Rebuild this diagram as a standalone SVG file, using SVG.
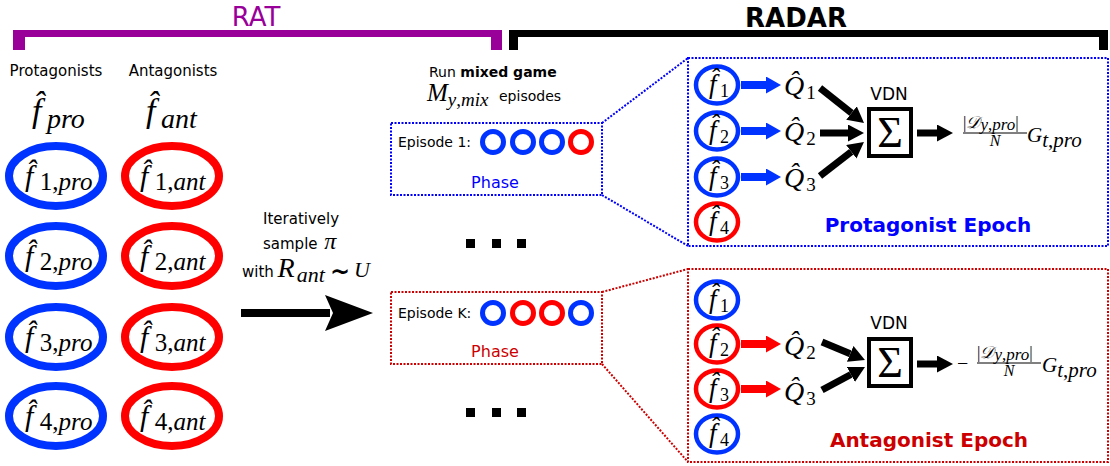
<svg xmlns="http://www.w3.org/2000/svg" width="1110" height="466" viewBox="0 0 1110 466">
<style>
.sans{font-family:"DejaVu Sans","Liberation Sans",sans-serif;fill:#000}
.b{font-weight:bold}
.mi{font-family:"Liberation Serif",serif;font-style:italic;fill:#000}
.mr{font-family:"Liberation Serif",serif;font-style:normal;fill:#000}
.dotB{fill:none;stroke:#0000ff;stroke-width:2;stroke-dasharray:2 1.5}
.dotR{fill:none;stroke:#cc0000;stroke-width:2;stroke-dasharray:2 1.5}
.ringB{fill:none;stroke:#0033ff}
.ringR{fill:none;stroke:#ff0000}
.big{stroke-width:8}
.ep{stroke-width:5}
.sm{stroke-width:4.5}
.sig{fill:none;stroke:#000;stroke-width:4}
.blk{stroke:#000;stroke-width:7;fill:none}
.blu{stroke:#0033ff;stroke-width:8;fill:none}
.red{stroke:#ff0000;stroke-width:8;fill:none}
</style>
<defs>
<marker id="hk" markerUnits="userSpaceOnUse" markerWidth="20" markerHeight="20" refX="0" refY="8.5" orient="auto" viewBox="0 0 20 20"><path d="M0,0 L16,8.5 L0,17 z" fill="#000"/></marker>
<marker id="hb" markerUnits="userSpaceOnUse" markerWidth="20" markerHeight="20" refX="0" refY="8.5" orient="auto" viewBox="0 0 20 20"><path d="M0,0 L15,8.5 L0,17 z" fill="#0033ff"/></marker>
<marker id="hr" markerUnits="userSpaceOnUse" markerWidth="20" markerHeight="20" refX="0" refY="8.5" orient="auto" viewBox="0 0 20 20"><path d="M0,0 L15,8.5 L0,17 z" fill="#ff0000"/></marker>
</defs>

<!-- Brackets -->
<g id="rat-bracket">
<text class="sans" x="256" y="26" font-size="26" text-anchor="middle" style="fill:#990099">RAT</text>
<rect x="13" y="30" width="489" height="7" fill="#990099"/>
<rect x="13" y="30" width="12" height="20" fill="#990099"/>
<rect x="491" y="30" width="11" height="20" fill="#990099"/>
</g>
<g id="radar-bracket">
<text class="sans b" x="796" y="27" font-size="26" text-anchor="middle">RADAR</text>
<rect x="509" y="30" width="599" height="7" fill="#000"/>
<rect x="509" y="30" width="9" height="20" fill="#000"/>
<rect x="1099" y="30" width="9" height="20" fill="#000"/>
</g>

<!-- Left column headers -->
<g id="pro-header">
<text class="sans" x="56" y="76" font-size="15" text-anchor="middle">Protagonists</text>
<text class="mi" x="32" y="122" font-size="34">f&#x302;<tspan font-size="28" dx="5.5" dy="6">pro</tspan></text>
</g>
<g id="ant-header">
<text class="sans" x="173" y="76" font-size="15" text-anchor="middle">Antagonists</text>
<text class="mi" x="146" y="122" font-size="34">f&#x302;<tspan font-size="28" dx="5.5" dy="6">ant</tspan></text>
</g>

<!-- Left ellipses -->
<g id="pro1"><ellipse class="ringB big" cx="56" cy="176" rx="47" ry="30"/><text class="mi" x="25" y="186" font-size="30">f&#x302;<tspan class="mr" font-size="25" dx="6.5" dy="4">1,</tspan><tspan font-size="25">pro</tspan></text></g>
<g id="pro2"><ellipse class="ringB big" cx="56" cy="256" rx="47" ry="30"/><text class="mi" x="25" y="266" font-size="30">f&#x302;<tspan class="mr" font-size="25" dx="6.5" dy="4">2,</tspan><tspan font-size="25">pro</tspan></text></g>
<g id="pro3"><ellipse class="ringB big" cx="56" cy="337" rx="47" ry="30"/><text class="mi" x="25" y="347" font-size="30">f&#x302;<tspan class="mr" font-size="25" dx="6.5" dy="4">3,</tspan><tspan font-size="25">pro</tspan></text></g>
<g id="pro4"><ellipse class="ringB big" cx="56" cy="416" rx="47" ry="30"/><text class="mi" x="25" y="426" font-size="30">f&#x302;<tspan class="mr" font-size="25" dx="6.5" dy="4">4,</tspan><tspan font-size="25">pro</tspan></text></g>

<g id="ant1"><ellipse class="ringR big" cx="172" cy="176" rx="47" ry="30"/><text class="mi" x="140" y="186" font-size="30">f&#x302;<tspan class="mr" font-size="25" dx="6.5" dy="4">1,</tspan><tspan font-size="25">ant</tspan></text></g>
<g id="ant2"><ellipse class="ringR big" cx="172" cy="256" rx="47" ry="30"/><text class="mi" x="140" y="266" font-size="30">f&#x302;<tspan class="mr" font-size="25" dx="6.5" dy="4">2,</tspan><tspan font-size="25">ant</tspan></text></g>
<g id="ant3"><ellipse class="ringR big" cx="172" cy="337" rx="47" ry="30"/><text class="mi" x="140" y="347" font-size="30">f&#x302;<tspan class="mr" font-size="25" dx="6.5" dy="4">3,</tspan><tspan font-size="25">ant</tspan></text></g>
<g id="ant4"><ellipse class="ringR big" cx="172" cy="416" rx="47" ry="30"/><text class="mi" x="140" y="426" font-size="30">f&#x302;<tspan class="mr" font-size="25" dx="6.5" dy="4">4,</tspan><tspan font-size="25">ant</tspan></text></g>

<!-- Sampling label -->
<g id="sample-label">
<text class="sans" x="263" y="224" font-size="15">Iteratively</text>
<text class="sans" x="263" y="249" font-size="15">sample <tspan class="mi" font-size="24" dx="2">π</tspan></text>
<text class="sans" x="242" y="277" font-size="15">with <tspan class="mi" font-size="28" dx="-1">R</tspan><tspan class="mi" font-size="22" dx="2" dy="5">ant</tspan></text>
<text class="sans b" x="330" y="280" font-size="24">~</text>
<text class="mi" x="354" y="277" font-size="22">U</text>
</g>

<!-- Run mixed game label -->
<g id="run-label">
<text class="sans" x="429" y="77" font-size="14">Run <tspan class="b">mixed game</tspan></text>
<text class="mi" x="427" y="101" font-size="25">M<tspan font-size="19" dy="5">y<tspan class="mr">,</tspan>mix</tspan></text>
<text class="sans" x="499" y="101" font-size="14">episodes</text>
</g>

<!-- Episode boxes -->
<g id="episode-1">
<rect class="dotB" x="391" y="123" width="211" height="72"/>
<text class="sans" x="398" y="147" font-size="14">Episode 1:</text>
<circle class="ringB ep" cx="493" cy="142" r="10.5"/>
<circle class="ringB ep" cx="523" cy="142" r="10.5"/>
<circle class="ringB ep" cx="552" cy="142" r="10.5"/>
<circle class="ringR ep" cx="581" cy="142" r="10.5"/>
<text class="sans" x="495" y="188" font-size="16" text-anchor="middle" style="fill:#0000ff">Phase</text>
</g>
<g id="episode-k">
<rect class="dotR" x="391" y="292" width="211" height="72"/>
<text class="sans" x="398" y="318" font-size="14">Episode K:</text>
<circle class="ringB ep" cx="493" cy="313" r="10.5"/>
<circle class="ringR ep" cx="523" cy="313" r="10.5"/>
<circle class="ringR ep" cx="552" cy="313" r="10.5"/>
<circle class="ringB ep" cx="581" cy="313" r="10.5"/>
<text class="sans" x="495" y="357" font-size="16" text-anchor="middle" style="fill:#cc0000">Phase</text>
</g>
<g id="ellipsis-dots">
<rect x="466" y="239" width="9" height="9"/><rect x="492" y="239" width="9" height="9"/><rect x="517" y="239" width="9" height="9"/>
<rect x="466" y="408" width="9" height="9"/><rect x="492" y="408" width="9" height="9"/><rect x="517" y="408" width="9" height="9"/>
</g>

<!-- Protagonist epoch -->
<g id="protagonist-epoch">
<rect class="dotB" x="688" y="58" width="420" height="188"/>
<g id="p-f1"><ellipse class="ringB sm" cx="717" cy="85" rx="21" ry="18.5"/><text class="mi" x="709" y="93" font-size="27">f&#x302;<tspan class="mr" font-size="18" dx="3.5" dy="4">1</tspan></text></g>
<g id="p-f2"><ellipse class="ringB sm" cx="717" cy="131" rx="21" ry="18.5"/><text class="mi" x="709" y="139" font-size="27">f&#x302;<tspan class="mr" font-size="18" dx="3.5" dy="4">2</tspan></text></g>
<g id="p-f3"><ellipse class="ringB sm" cx="717" cy="177" rx="21" ry="18.5"/><text class="mi" x="709" y="185" font-size="27">f&#x302;<tspan class="mr" font-size="18" dx="3.5" dy="4">3</tspan></text></g>
<g id="p-f4"><ellipse class="ringR sm" cx="717" cy="222" rx="21" ry="18.5"/><text class="mi" x="709" y="230" font-size="27">f&#x302;<tspan class="mr" font-size="18" dx="3.5" dy="4">4</tspan></text></g>
<g id="p-q1"><text class="mi" x="784" y="95" font-size="28">Q&#x302;<tspan class="mr" font-size="19" dx="2" dy="4">1</tspan></text></g>
<g id="p-q2"><text class="mi" x="784" y="141" font-size="28">Q&#x302;<tspan class="mr" font-size="19" dx="2" dy="4">2</tspan></text></g>
<g id="p-q3"><text class="mi" x="784" y="187" font-size="28">Q&#x302;<tspan class="mr" font-size="19" dx="2" dy="4">3</tspan></text></g>
<g id="p-vdn">
<text class="sans" x="889" y="100" font-size="17" text-anchor="middle">VDN</text>
<rect class="sig" x="869" y="109" width="42" height="47"/>
<text class="mr" x="890" y="147" font-size="44" text-anchor="middle">Σ</text>
</g>
<g id="p-out">
<text class="mr" x="963" y="128" font-size="17">|<tspan class="mi">𝒟</tspan><tspan class="mi" dy="2">y</tspan>,<tspan class="mi">pro</tspan><tspan dy="-2">|</tspan></text>
<line x1="963" y1="133" x2="1027" y2="133" stroke="#000" stroke-width="1"/>
<text class="mi" x="995" y="146" font-size="16" text-anchor="middle">N</text>
<text class="mi" x="1027" y="142" font-size="21">G<tspan dy="5">t<tspan class="mr">,</tspan>pro</tspan></text>
</g>
<text class="sans b" x="928" y="232" font-size="20" text-anchor="middle" style="fill:#0000ff">Protagonist Epoch</text>
</g>

<!-- Antagonist epoch -->
<g id="antagonist-epoch">
<rect class="dotR" x="688" y="269" width="420" height="193"/>
<g id="a-f1"><ellipse class="ringB sm" cx="717" cy="300" rx="21" ry="18.5"/><text class="mi" x="709" y="308" font-size="27">f&#x302;<tspan class="mr" font-size="18" dx="3.5" dy="4">1</tspan></text></g>
<g id="a-f2"><ellipse class="ringR sm" cx="717" cy="344" rx="21" ry="18.5"/><text class="mi" x="709" y="352" font-size="27">f&#x302;<tspan class="mr" font-size="18" dx="3.5" dy="4">2</tspan></text></g>
<g id="a-f3"><ellipse class="ringR sm" cx="717" cy="389" rx="21" ry="18.5"/><text class="mi" x="709" y="397" font-size="27">f&#x302;<tspan class="mr" font-size="18" dx="3.5" dy="4">3</tspan></text></g>
<g id="a-f4"><ellipse class="ringB sm" cx="717" cy="434" rx="21" ry="18.5"/><text class="mi" x="709" y="442" font-size="27">f&#x302;<tspan class="mr" font-size="18" dx="3.5" dy="4">4</tspan></text></g>
<g id="a-q2"><text class="mi" x="784" y="355" font-size="28">Q&#x302;<tspan class="mr" font-size="19" dx="2" dy="4">2</tspan></text></g>
<g id="a-q3"><text class="mi" x="784" y="401" font-size="28">Q&#x302;<tspan class="mr" font-size="19" dx="2" dy="4">3</tspan></text></g>
<g id="a-vdn">
<text class="sans" x="889" y="329" font-size="17" text-anchor="middle">VDN</text>
<rect class="sig" x="869" y="339" width="42" height="47"/>
<text class="mr" x="890" y="377" font-size="44" text-anchor="middle">Σ</text>
</g>
<g id="a-out">
<text class="mr" x="957" y="370" font-size="20">−</text>
<text class="mr" x="977" y="358" font-size="17">|<tspan class="mi">𝒟</tspan><tspan class="mi" dy="2">y</tspan>,<tspan class="mi">pro</tspan><tspan dy="-2">|</tspan></text>
<line x1="977" y1="363" x2="1041" y2="363" stroke="#000" stroke-width="1"/>
<text class="mi" x="1009" y="376" font-size="16" text-anchor="middle">N</text>
<text class="mi" x="1042" y="372" font-size="21">G<tspan dy="5">t<tspan class="mr">,</tspan>pro</tspan></text>
</g>
<text class="sans b" x="929" y="447" font-size="20" text-anchor="middle" style="fill:#cc0000">Antagonist Epoch</text>
</g>

<!-- Connectors -->
<g id="connectors">
<line class="dotB" x1="602" y1="123" x2="688" y2="58"/>
<line class="dotB" x1="602" y1="195" x2="688" y2="246"/>
<line class="dotR" x1="602" y1="292" x2="688" y2="269"/>
<line class="dotR" x1="602" y1="364" x2="688" y2="462"/>
<line x1="241" y1="313" x2="330" y2="313" stroke="#000" stroke-width="8"/>
<polygon points="325,295 373,313 325,331 333,313" fill="#000"/>
<line class="blu" x1="741" y1="85" x2="766" y2="85" marker-end="url(#hb)"/>
<line class="blu" x1="741" y1="131" x2="766" y2="131" marker-end="url(#hb)"/>
<line class="blu" x1="741" y1="177" x2="766" y2="177" marker-end="url(#hb)"/>
<line class="blk" x1="820" y1="88" x2="851.5" y2="113" marker-end="url(#hk)"/>
<line class="blk" x1="820" y1="133" x2="848" y2="133" marker-end="url(#hk)"/>
<line class="blk" x1="820" y1="176" x2="851.3" y2="151.8" marker-end="url(#hk)"/>
<line class="blk" x1="917" y1="133" x2="937" y2="133" marker-end="url(#hk)"/>
<line class="red" x1="741" y1="344" x2="766" y2="344" marker-end="url(#hr)"/>
<line class="red" x1="741" y1="389" x2="766" y2="389" marker-end="url(#hr)"/>
<line class="blk" x1="822" y1="342" x2="850.2" y2="353.8" marker-end="url(#hk)"/>
<line class="blk" x1="822" y1="390" x2="850.9" y2="374.5" marker-end="url(#hk)"/>
<line class="blk" x1="917" y1="364" x2="937" y2="364" marker-end="url(#hk)"/>
</g>
</svg>
